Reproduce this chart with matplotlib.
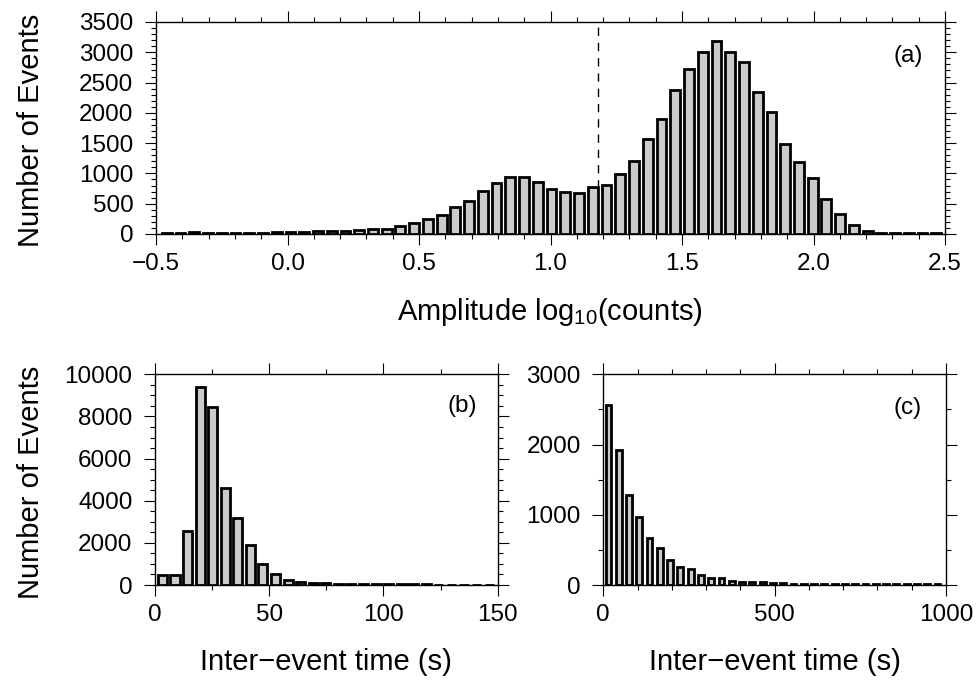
import matplotlib
matplotlib.use('Agg')
import matplotlib.pyplot as plt
import numpy as np
from matplotlib.ticker import MultipleLocator

plt.rcParams['font.family'] = ['Liberation Sans', 'DejaVu Sans']
plt.rcParams['mathtext.default'] = 'regular'
plt.rcParams['axes.unicode_minus'] = True

# ---------------- data ----------------
# (a) amplitude histogram, log10(counts)
a_first_center = -0.459
a_bin_step = 0.05225
a_counts = [15, 15, 25, 15, 15, 20, 15, 15, 25, 25,
            35, 45, 45, 45, 58, 80, 85, 125, 188, 253,
            312, 451, 550, 710, 847, 940, 940, 860, 750, 700,
            680, 780, 805, 996, 1200, 1570, 1900, 2370, 2730, 3005,
            3180, 3005, 2840, 2345, 2010, 1480, 1190, 925, 583, 325,
            143, 50, 20, 15, 10, 10, 10]
a_threshold = 1.18
a_xticks = [-0.5, 0.0, 0.5, 1.0, 1.5, 2.0, 2.5]
a_xticklabels = ['\u22120.5', '0.0', '0.5', '1.0', '1.5', '2.0', '2.5']
a_yticks = [0, 500, 1000, 1500, 2000, 2500, 3000, 3500]

# (b) inter-event time, 0-150 s
b_first_center = 3.25
b_bin_step = 5.5
b_counts = [475, 490, 2547, 9380, 8465, 4590, 3165, 1915, 1013, 538,
            253, 158, 110, 80, 70, 60, 60, 50, 30, 30,
            25, 25, 20, 20, 15, 15, 15]
b_xticks = [0, 50, 100, 150]
b_yticks = [0, 2000, 4000, 6000, 8000, 10000]

# (c) inter-event time, 0-1000 s
c_first_center = 15
c_bin_step = 30
c_counts = [2570, 1922, 1277, 963, 669, 522, 356, 252, 228, 147,
            104, 95, 57, 43, 43, 43, 25, 25, 20, 20,
            15, 15, 12, 12, 12, 10, 10, 10, 8, 8,
            8, 8, 8]
c_xticks = [0, 500, 1000]
c_yticks = [0, 1000, 2000, 3000]

# ---------------- style ----------------
FILL = '#cbcbcb'
EDGE_LW = 2.0
TICK_FS = 17.5
LABEL_FS = 21

fig = plt.figure(figsize=(9.77, 6.81), dpi=100)
axa = fig.add_axes([156/977, 1-234/681, 789/977, 212/681])
axb = fig.add_axes([155/977, 1-585/681, 342.7/977, 210.7/681])
axc = fig.add_axes([603.3/977, 1-585/681, 342.7/977, 210.7/681])


def style(ax, xminor, yminor):
    for s in ax.spines.values():
        s.set_linewidth(1.0)
    ax.xaxis.set_minor_locator(MultipleLocator(xminor))
    ax.yaxis.set_minor_locator(MultipleLocator(yminor))
    ax.tick_params(which='both', direction='out', top=True, right=True,
                   labeltop=False, labelright=False, width=0.8,
                   labelsize=TICK_FS)
    ax.tick_params(which='major', length=7.7)
    ax.tick_params(which='minor', length=3.6)
    ax.tick_params(axis='x', which='major', pad=6)
    ax.tick_params(axis='y', which='major', pad=8.5)


def hist(ax, first, step, counts, width):
    centers = first + step * np.arange(len(counts))
    ax.bar(centers, counts, width=width, color=FILL, edgecolor='black',
           linewidth=EDGE_LW, zorder=3)


# (a)
axa.axvline(a_threshold, color='black', lw=1.0, ls=(0, (6, 5)), zorder=1)
hist(axa, a_first_center, a_bin_step, a_counts, 0.0373)
axa.set_xlim(-0.5, 2.5)
axa.set_ylim(0, 3500)
axa.set_xticks(a_xticks)
axa.set_xticklabels(a_xticklabels)
axa.set_yticks(a_yticks)
style(axa, 0.1, 100)
axa.text(0.972, 0.84, '(a)', transform=axa.transAxes, ha='right',
         va='center', fontsize=TICK_FS)

# (b)
hist(axb, b_first_center, b_bin_step, b_counts, 3.95)
axb.set_xlim(0, 150)
axb.set_ylim(0, 10000)
axb.set_xticks(b_xticks)
axb.set_yticks(b_yticks)
style(axb, 25, 500)
axb.text(0.939, 0.85, '(b)', transform=axb.transAxes, ha='right',
         va='center', fontsize=TICK_FS)

# (c)
hist(axc, c_first_center, c_bin_step, c_counts, 17)
axc.set_xlim(0, 1000)
axc.set_ylim(0, 3000)
axc.set_xticks(c_xticks)
axc.set_yticks(c_yticks)
style(axc, 100, 500)
axc.text(0.929, 0.84, '(c)', transform=axc.transAxes, ha='right',
         va='center', fontsize=TICK_FS)

# labels
fig.text(550/977, 1-320/681, 'Amplitude log$_{10}$(counts)', ha='center',
         va='baseline', fontsize=LABEL_FS)
fig.text(326/977, 1-670/681, 'Inter\u2212event time (s)', ha='center',
         va='baseline', fontsize=LABEL_FS)
fig.text(775/977, 1-670/681, 'Inter\u2212event time (s)', ha='center',
         va='baseline', fontsize=LABEL_FS)
fig.text(31/977, 1-130/681, 'Number of Events', ha='center', va='center',
         rotation=90, fontsize=LABEL_FS)
fig.text(31/977, 1-482/681, 'Number of Events', ha='center', va='center',
         rotation=90, fontsize=LABEL_FS)

fig.savefig('out.png', dpi=100)
